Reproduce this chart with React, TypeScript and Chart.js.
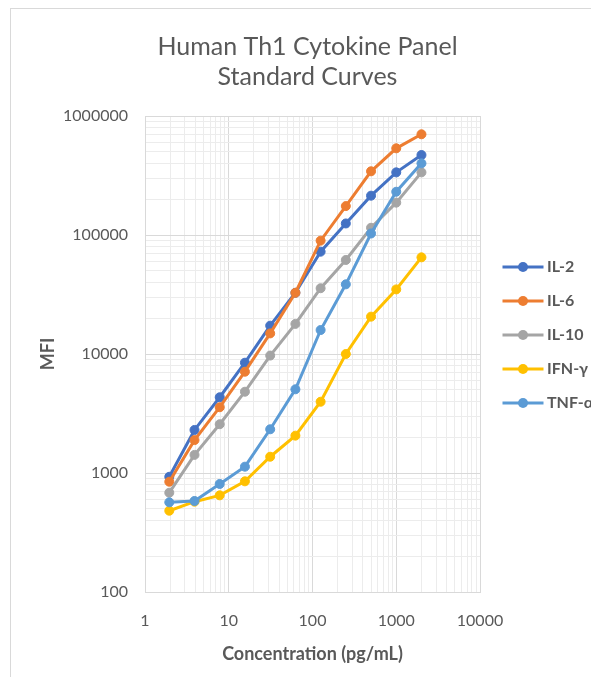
import React, { useEffect, useRef } from 'react';
import { Chart, registerables } from 'chart.js';

Chart.register(...registerables);

// ---- data ----
const concentrations = [1.95, 3.9, 7.8, 15.6, 31.25, 62.5, 125, 250, 500, 1000, 2000];
const il2 = [930, 2300, 4330, 8450, 17300, 32700, 72400, 125000, 214000, 336000, 470000];
const il6 = [845, 1890, 3570, 7100, 14900, 32700, 89600, 175000, 343000, 535000, 702000];
const il10 = [683, 1420, 2570, 4820, 9700, 17900, 35700, 61700, 115000, 187000, 336000];
const ifng = [482, 574, 649, 851, 1370, 2060, 3970, 10000, 20600, 34900, 64900];
const tnfa = [567, 582, 809, 1130, 2330, 5050, 15900, 38500, 103000, 231000, 400000];

const seriesNames = ['IL-2', 'IL-6', 'IL-10', 'IFN-γ', 'TNF-α'];
const seriesValues = [il2, il6, il10, ifng, tnfa];
const seriesColors = ['#4472C4', '#ED7D31', '#A5A5A5', '#FFC000', '#5B9BD5'];

const xTickLabels = ['1', '10', '100', '1000', '10000'];
const yTickLabels = ['100', '1000', '10000', '100000', '1000000'];

const titleLines = ['Human Th1 Cytokine Panel', 'Standard Curves'];
const xTitle = 'Concentration (pg/mL)';
const yTitle = 'MFI';

const TEXT = '#595959';
const MAJOR = '#d9d9d9';
const MINOR = '#ececec';
const FONT = 'Lato';

const dropHalfSteps = (scale: any) => {
  scale.ticks = scale.ticks.filter((t: any) => {
    const e = Math.floor(Math.log10(t.value) + 1e-9);
    const m = t.value / Math.pow(10, e);
    return Math.abs(m - 1.5) > 1e-6;
  });
};

const sideLegend = {
  id: 'sideLegend',
  afterDraw(chart: any) {
    const { ctx, chartArea } = chart;
    const ds = chart.data.datasets;
    const n = ds.length;
    const midY = (chartArea.top + chartArea.bottom) / 2 - 19;
    const x0 = chartArea.right + 22.5;
    ds.forEach((d: any, i: number) => {
      const cy = midY + (i - (n - 1) / 2) * 34;
      ctx.save();
      ctx.strokeStyle = d.borderColor;
      ctx.lineWidth = 3;
      ctx.beginPath();
      ctx.moveTo(x0, cy);
      ctx.lineTo(x0 + 41, cy);
      ctx.stroke();
      ctx.fillStyle = d.borderColor;
      ctx.beginPath();
      ctx.arc(x0 + 20.5, cy, 5, 0, Math.PI * 2);
      ctx.fill();
      ctx.fillStyle = TEXT;
      ctx.font = `bold 16px ${FONT}`;
      ctx.textBaseline = 'middle';
      ctx.textAlign = 'left';
      ctx.fillText(d.label, x0 + 44.5, cy);
      ctx.restore();
    });
  },
};

export default function App() {
  const ref = useRef<HTMLCanvasElement>(null);

  useEffect(() => {
    if (!ref.current) return;
    const datasets = seriesNames.map((name, i) => ({
      label: name,
      data: concentrations.map((c, j) => ({ x: c, y: seriesValues[i][j] })),
      borderColor: seriesColors[i],
      backgroundColor: seriesColors[i],
      pointBackgroundColor: seriesColors[i],
      pointBorderColor: seriesColors[i],
      pointRadius: 4.5,
      pointBorderWidth: 1,
      borderWidth: 3,
      tension: 0,
      order: -i,
      yAxisID: 'y',
    }));

    const chart = new Chart(ref.current, {
      type: 'line',
      data: { datasets },
      plugins: [sideLegend],
      options: {
        animation: false,
        responsive: false,
        layout: { padding: 0 },
        plugins: {
          legend: { display: false },
          tooltip: { enabled: false },
          title: {
            display: true,
            text: titleLines,
            color: TEXT,
            font: { family: FONT, size: 25, weight: 'normal', lineHeight: 1.2 },
            padding: { top: 22.5, bottom: 24.5 },
          },
        },
        scales: {
          x: {
            type: 'logarithmic',
            min: 1,
            max: 10000,
            afterBuildTicks: dropHalfSteps,
            afterFit: (s: any) => { s.height = 85; },
            grid: {
              drawTicks: false,
              color: (c: any) => (c.tick && xTickLabels.includes(String(c.tick.value)) ? MAJOR : MINOR),
              lineWidth: 1,
            },
            border: { color: MAJOR, width: 1 },
            ticks: {
              autoSkip: false,
              maxRotation: 0,
              minRotation: 0,
              padding: 19,
              color: TEXT,
              font: { family: FONT, size: 16 },
              callback: (v: any) => (xTickLabels.includes(String(v)) ? String(v) : ''),
            },
            title: {
              display: true,
              text: xTitle,
              color: TEXT,
              font: { family: FONT, size: 18, weight: 'bold', lineHeight: 1.2 },
              padding: { top: 13, bottom: 12.2 },
            },
          },
          y: {
            type: 'logarithmic',
            position: 'left',
            min: 100,
            max: 1000000,
            afterBuildTicks: dropHalfSteps,
            afterFit: (s: any) => { s.width = 134; },
            grid: {
              drawTicks: false,
              color: (c: any) => (c.tick && yTickLabels.includes(String(c.tick.value)) ? MAJOR : MINOR),
              lineWidth: 1,
            },
            border: { color: MAJOR, width: 1 },
            ticks: {
              autoSkip: false,
              padding: 17,
              color: TEXT,
              font: { family: FONT, size: 16 },
              callback: (v: any) => (yTickLabels.includes(String(v)) ? String(v) : ''),
            },
            title: {
              display: true,
              text: yTitle,
              color: TEXT,
              font: { family: FONT, size: 18, weight: 'bold', lineHeight: 1.2 },
              padding: { top: 26.2, bottom: 0 },
            },
          },
          y2: {
            type: 'linear',
            position: 'right',
            min: 0,
            max: 1,
            display: true,
            afterFit: (s: any) => { s.width = 124; },
            grid: { display: false, drawOnChartArea: false, drawTicks: false },
            border: { display: false },
            ticks: { display: false },
          },
        },
      } as any,
    });
    return () => chart.destroy();
  }, []);

  return (
    <div style={{ position: 'fixed', left: 0, top: 0, width: 591, height: 677, overflow: 'hidden', background: '#fff' }}>
      <div
        style={{
          position: 'absolute',
          left: 10,
          top: 8,
          width: 620,
          height: 700,
          borderLeft: '1px solid #d9d9d9',
          borderTop: '1px solid #d9d9d9',
          background: '#fff',
        }}
      >
        <canvas ref={ref} width={593} height={668} style={{ display: 'block', width: 593, height: 668 }} />
      </div>
    </div>
  );
}
